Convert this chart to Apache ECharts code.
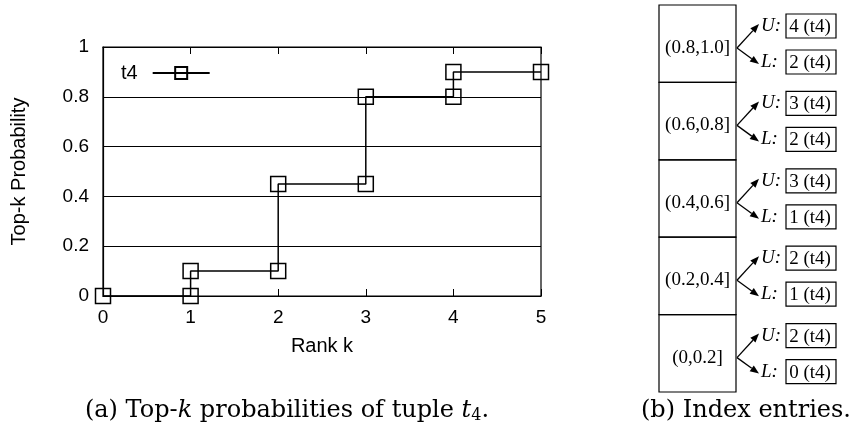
<!DOCTYPE html>
<html>
<head>
<meta charset="utf-8">
<script src="https://cdn.jsdelivr.net/npm/echarts@6/dist/echarts.min.js"></script>
<style>
  html, body { margin: 0; padding: 0; background: #fff; }
  #chart { width: 853px; height: 440px; }
</style>
</head>
<body>
<div id="chart"></div>
<script>
// step curve of top-k probability for tuple t4 (both ends of every step are marked)
var rankK = [0, 1, 1, 2, 2, 3, 3, 4, 4, 5];
var topkProb = [0, 0, 0.1, 0.1, 0.45, 0.45, 0.8, 0.8, 0.9, 0.9];
var yTicks = [0, 0.2, 0.4, 0.6, 0.8, 1];

// index entries (b)
var intervals = ['(0.8,1.0]', '(0.6,0.8]', '(0.4,0.6]', '(0.2,0.4]', '(0,0.2]'];
var upperRank = [4, 3, 3, 2, 2];
var lowerRank = [2, 2, 1, 1, 0];
var tupleName = 't4';

var serif = '"Liberation Serif", "DejaVu Serif", serif';
var capSerif = '"DejaVu Serif", serif';
var sans = '"Liberation Sans", Arial, sans-serif';

function arrow(x1, y1, x2, y2) {
  var dx = x2 - x1, dy = y2 - y1;
  var len = Math.sqrt(dx * dx + dy * dy);
  var ux = dx / len, uy = dy / len;
  var hl = 9, hw = 3.5;
  var bx = x2 - ux * hl, by = y2 - uy * hl;
  return [
    { type: 'line', shape: { x1: x1, y1: y1, x2: bx, y2: by }, style: { stroke: '#000', lineWidth: 1.3 } },
    { type: 'polygon', shape: { points: [[x2, y2], [bx - uy * hw, by + ux * hw], [bx + uy * hw, by - ux * hw]] }, style: { fill: '#000' } }
  ];
}

function indexGraphics() {
  var els = [];
  var bx = 659, bw = 77, top0 = 5, rowH = 77.4;
  intervals.forEach(function (iv, i) {
    var top = top0 + i * rowH;
    els.push({ type: 'rect', shape: { x: bx, y: top, width: bw, height: rowH }, style: { fill: 'none', stroke: '#000', lineWidth: 1.2 } });
    els.push({ type: 'text', x: bx + bw / 2, y: top + 43, style: { text: iv, font: '19px ' + serif, fill: '#000', align: 'center', verticalAlign: 'middle' } });
    var sx = bx + bw + 1, sy = top + 43;
    els = els.concat(arrow(sx, sy, 759, top + 19));
    els = els.concat(arrow(sx, sy, 759, top + 59));
    [['U:', upperRank[i], top + 21], ['L:', lowerRank[i], top + 57]].forEach(function (r) {
      els.push({ type: 'text', x: 761, y: r[2], style: { text: r[0], font: 'italic 19px ' + serif, fill: '#000', align: 'left', verticalAlign: 'middle' } });
      els.push({ type: 'rect', shape: { x: 786, y: r[2] - 12, width: 50, height: 24 }, style: { fill: 'none', stroke: '#000', lineWidth: 1.2 } });
      els.push({ type: 'text', x: 810, y: r[2] + 1, style: { text: r[1] + ' (' + tupleName + ')', font: '19px ' + serif, fill: '#000', align: 'center', verticalAlign: 'middle' } });
    });
  });
  return els;
}

var chart = echarts.init(document.getElementById('chart'));
var axisText = { color: '#000', fontSize: 19, fontFamily: sans };

chart.setOption({
  animation: false,
  backgroundColor: '#fff',
  grid: { left: 103, right: 312, top: 47, bottom: 144, show: true, borderColor: '#000', borderWidth: 1.2, backgroundColor: 'transparent' },
  legend: {
    left: 116, top: 58, align: 'right', itemWidth: 57, itemHeight: 15, itemGap: 8,
    textStyle: { color: '#000', fontSize: 20, fontFamily: sans, padding: [0, 10, 0, 0] },
    data: [tupleName]
  },
  xAxis: [{
    type: 'value', min: 0, max: 5, interval: 1,
    name: 'Rank k', nameLocation: 'middle', nameGap: 40,
    nameTextStyle: { color: '#000', fontSize: 20, fontFamily: sans },
    axisLine: { lineStyle: { color: '#000', width: 1.2 } },
    axisTick: { inside: true, length: 7, lineStyle: { color: '#000' } },
    axisLabel: Object.assign({ margin: 12 }, axisText),
    splitLine: { show: false }
  }, {
    type: 'value', position: 'top', min: 0, max: 5, interval: 1,
    axisLine: { lineStyle: { color: '#000', width: 1.2 } },
    axisTick: { inside: true, length: 7, lineStyle: { color: '#000' } },
    axisLabel: { show: false }, splitLine: { show: false }
  }],
  yAxis: {
    type: 'value', min: yTicks[0], max: yTicks[yTicks.length - 1], interval: 0.2,
    name: 'Top-k Probability', nameLocation: 'middle', nameGap: 74,
    nameTextStyle: { color: '#000', fontSize: 20, fontFamily: sans },
    axisLine: { lineStyle: { color: '#000', width: 1.2 } },
    axisTick: { show: false },
    axisLabel: Object.assign({ margin: 14, formatter: function (v) { return String(Math.round(v * 10) / 10); } }, axisText),
    splitLine: { lineStyle: { color: '#000', width: 1 } }
  },
  series: [{
    name: tupleName, type: 'line',
    data: rankK.map(function (k, i) { return [k, topkProb[i]]; }),
    symbol: 'rect', symbolSize: 15, showAllSymbol: true,
    lineStyle: { color: '#000', width: 1.5 },
    itemStyle: { color: 'rgba(255,255,255,0)', borderColor: '#000', borderWidth: 1.5 }
  }],
  graphic: indexGraphics().concat([
    {
      type: 'text', x: 287, y: 411,
      style: {
        text: '(a) Top-{i|k} probabilities of tuple {i|t}{s|4}.',
        font: '24px ' + capSerif, fill: '#000', align: 'center', verticalAlign: 'middle',
        rich: {
          i: { fontStyle: 'italic', fontSize: 24, fontFamily: capSerif },
          s: { fontSize: 16, fontFamily: capSerif, verticalAlign: 'bottom', padding: [9, 0, 0, 0] }
        }
      }
    },
    {
      type: 'text', x: 746, y: 411,
      style: { text: '(b) Index entries.', font: '24px ' + capSerif, fill: '#000', align: 'center', verticalAlign: 'middle' }
    }
  ])
});
</script>
</body>
</html>
